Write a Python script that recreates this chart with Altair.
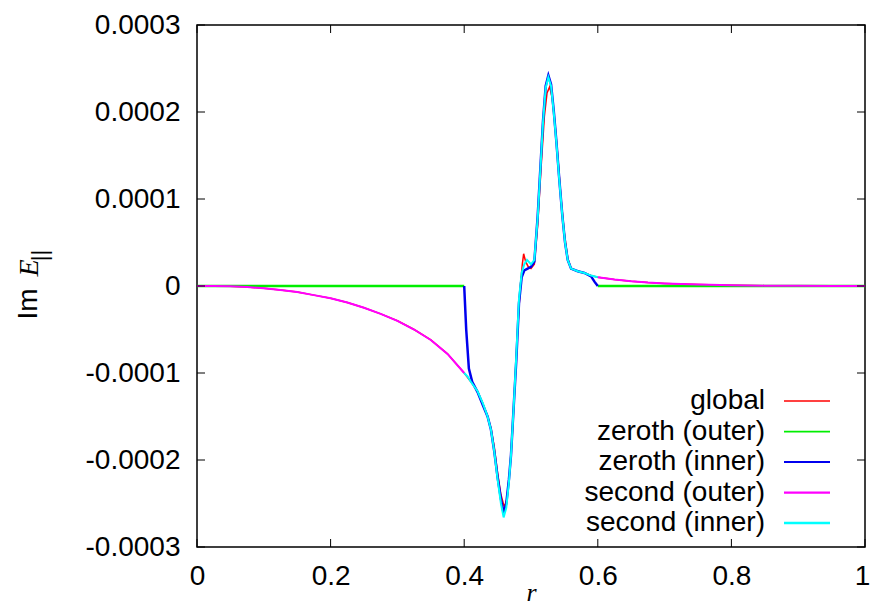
import altair as alt
import pandas as pd

# ---------------- data ----------------
r_outer_left = [0, 0.025, 0.05, 0.075, 0.1, 0.125, 0.15, 0.175, 0.2, 0.225, 0.25,
                0.275, 0.3, 0.325, 0.35, 0.375, 0.4]
v_second_outer_left = [0, -0.1, -0.4, -1.2, -2.5, -4.5, -7, -10.5, -14, -19, -25,
                       -32, -40, -50, -62, -78, -100]  # x1e-6

r_outer_right = [0.6, 0.625, 0.65, 0.675, 0.7, 0.75, 0.8, 0.85, 0.9, 0.95, 1.0]
v_second_outer_right = [10, 7.5, 5.5, 4, 3, 1.6, 0.8, 0.4, 0.2, 0.1, 0]  # x1e-6

r_zeroth_outer_left = [0, 0.4]
v_zeroth_outer_left = [0, 0]
r_zeroth_outer_right = [0.6, 1.0]
v_zeroth_outer_right = [0, 0]

r_zeroth_inner = [0.400, 0.403, 0.407, 0.412, 0.42, 0.428, 0.435, 0.44, 0.445, 0.45,
                  0.455, 0.459, 0.463, 0.467, 0.470, 0.474, 0.478, 0.482, 0.486, 0.49,
                  0.495, 0.5, 0.505, 0.51, 0.514, 0.518, 0.522, 0.526, 0.53, 0.534,
                  0.538, 0.542, 0.547, 0.551, 0.555, 0.56, 0.57, 0.58, 0.59, 0.595, 0.6]
v_zeroth_inner = [0, -50, -95, -110, -122, -137, -150, -165, -190, -220,
                  -245, -261, -250, -222, -195, -140, -85, -20, 10, 18,
                  20, 22, 28, 80, 135, 190, 230, 242, 232, 202,
                  166, 126, 80, 50, 30, 20, 17, 15, 11, 5, 0]

r_second_inner = [0.400, 0.405, 0.41, 0.42, 0.428, 0.435, 0.44, 0.445, 0.45, 0.455,
                  0.459, 0.463, 0.467, 0.470, 0.474, 0.478, 0.482, 0.486, 0.49, 0.494,
                  0.5, 0.505, 0.51, 0.514, 0.518, 0.522, 0.526, 0.53, 0.534, 0.538,
                  0.542, 0.547, 0.551, 0.555, 0.56, 0.57, 0.58, 0.59, 0.6]
v_second_inner = [-100, -104, -110, -121, -135, -150, -165, -190, -222, -250,
                  -266, -255, -225, -195, -140, -80, -15, 15, 25, 30,
                  25, 30, 78, 133, 188, 228, 240, 230, 200, 165,
                  125, 80, 50, 30, 20, 17, 15, 12, 10]

r_global_mid = [0.41, 0.42, 0.428, 0.435, 0.44, 0.445, 0.45, 0.455, 0.46, 0.464,
                0.468, 0.472, 0.476, 0.48, 0.484, 0.487, 0.489, 0.492, 0.496, 0.5,
                0.505, 0.51, 0.515, 0.52, 0.524, 0.528, 0.532, 0.536, 0.54, 0.545,
                0.55, 0.555, 0.56, 0.57, 0.58, 0.59]
v_global_mid = [-110, -121, -135, -150, -163, -185, -215, -240, -254, -245,
                -215, -170, -110, -50, 0, 25, 37, 28, 22, 20,
                25, 70, 135, 195, 222, 229, 215, 185, 150, 100,
                60, 32, 20, 17, 15, 12]

series_names = ["global", "zeroth (outer)", "zeroth (inner)", "second (outer)", "second (inner)"]
series_colors = ["#ff0000", "#00ee00", "#0000ee", "#ff00ff", "#00ffff"]
series_widths = [1.5, 2.5, 2.5, 2.0, 2.0]

x_ticks = [0, 0.2, 0.4, 0.6, 0.8, 1.0]
y_ticks = [-0.0003, -0.0002, -0.0001, 0, 0.0001, 0.0002, 0.0003]

# ---------------- build table ----------------
def seg(name, part, rs, vs):
    return pd.DataFrame({"r": rs, "v": [x * 1e-6 for x in vs],
                         "series": name, "seg": f"{name}-{part}"})

frames = {
    "global": [seg("global", "a",
                   r_outer_left + r_global_mid + r_outer_right,
                   v_second_outer_left + v_global_mid + v_second_outer_right)],
    "zeroth (outer)": [seg("zeroth (outer)", "a", r_zeroth_outer_left, v_zeroth_outer_left),
                       seg("zeroth (outer)", "b", r_zeroth_outer_right, v_zeroth_outer_right)],
    "zeroth (inner)": [seg("zeroth (inner)", "a", r_zeroth_inner, v_zeroth_inner)],
    "second (outer)": [seg("second (outer)", "a", r_outer_left, v_second_outer_left),
                       seg("second (outer)", "b", r_outer_right, v_second_outer_right)],
    "second (inner)": [seg("second (inner)", "a", r_second_inner, v_second_inner)],
}

W, H = 668, 522
FONT = "Liberation Sans"
FS = 28
xscale = alt.Scale(domain=[0, 1], nice=False)
yscale = alt.Scale(domain=[-0.0003, 0.0003], nice=False)

layers = []
for i, name in enumerate(series_names):
    df = pd.concat(frames[name], ignore_index=True)
    first = i == 0
    xenc = alt.X("r:Q", scale=xscale,
                 axis=alt.Axis(values=x_ticks, ticks=False, domain=False, grid=False,
                               labelExpr="format(datum.value, '.1~f')",
                               labelFont=FONT, labelFontSize=FS, labelColor="black",
                               labelPadding=15, labelFlush=False,
                               labelOffset={"condition": {"test": "datum.value == 1", "value": -3},
                                            "value": 0},
                               title="r", titleFont="Liberation Serif", titleFontStyle="italic",
                               titleFontWeight="normal", titleFontSize=26, titleColor="black",
                               titleBaseline="alphabetic", titleY=53) if first else None)
    yenc = alt.Y("v:Q", scale=yscale,
                 axis=alt.Axis(values=y_ticks, ticks=False, domain=False, grid=False,
                               labelExpr="datum.value < 0 ? '-' + format(-datum.value, '.4~f') : format(datum.value, '.4~f')",
                               labelFont=FONT, labelFontSize=FS, labelColor="black",
                               labelPadding=17, labelFlush=False, title=None) if first else None)
    layers.append(
        alt.Chart(df).mark_line(strokeWidth=series_widths[i], color=series_colors[i])
        .encode(x=xenc, y=yenc, detail="seg:N", order="r:Q")
    )

# inward ticks (mirrored on all four sides)
xt = pd.DataFrame({"r": x_ticks})
yt = pd.DataFrame({"v": y_ticks})
TL = 8
tick_layers = [
    alt.Chart(xt).mark_rule(color="black", strokeWidth=1).encode(
        x=alt.X("r:Q", scale=xscale, axis=None), y=alt.value(H), y2=alt.value(H - TL)),
    alt.Chart(xt).mark_rule(color="black", strokeWidth=1).encode(
        x=alt.X("r:Q", scale=xscale, axis=None), y=alt.value(0), y2=alt.value(TL)),
    alt.Chart(yt).mark_rule(color="black", strokeWidth=1).encode(
        y=alt.Y("v:Q", scale=yscale, axis=None), x=alt.value(0), x2=alt.value(TL)),
    alt.Chart(yt).mark_rule(color="black", strokeWidth=1).encode(
        y=alt.Y("v:Q", scale=yscale, axis=None), x=alt.value(W), x2=alt.value(W - TL)),
]

# manual legend (labels right-aligned, line sample on the right)
leg = pd.DataFrame({"name": series_names, "row": list(range(len(series_names)))})
legy = alt.Y("row:Q", scale=alt.Scale(domain=[0, 4], range=[376, 498]), axis=None)
legend_text = alt.Chart(leg).mark_text(align="right", baseline="middle", font=FONT,
                                       fontSize=FS, color="black").encode(
    x=alt.value(568), y=legy, text="name:N")
legend_lines = alt.Chart(leg).mark_rule().encode(
    x=alt.value(587), x2=alt.value(633), y=legy,
    color=alt.Color("name:N", scale=alt.Scale(domain=series_names, range=series_colors), legend=None),
    strokeWidth=alt.StrokeWidth("name:N", scale=alt.Scale(domain=series_names, range=series_widths),
                                legend=None))

# y-axis title: "Im E_||"
one = leg.head(1)
ytitle = [
    alt.Chart(one).mark_text(text="Im", angle=270, font=FONT, fontSize=28,
                             align="center", baseline="middle", color="black").encode(
        x=alt.value(-168), y=alt.value(279)),
    alt.Chart(one).mark_text(text="E", angle=270, font="Liberation Serif", fontStyle="italic",
                             fontSize=28, align="center", baseline="middle", color="black").encode(
        x=alt.value(-167), y=alt.value(243)),
    alt.Chart(one).mark_text(text="||", angle=270, font=FONT, fontSize=22,
                             align="center", baseline="middle", color="black").encode(
        x=alt.value(-157), y=alt.value(230.5)),
]

chart = alt.layer(*layers, *tick_layers, legend_text, legend_lines, *ytitle).resolve_scale(
    x="independent", y="independent", color="independent", strokeWidth="independent"
).properties(
    width=W, height=H,
    autosize=alt.AutoSizeParams(type="none"),
    padding={"left": 189, "top": 17, "right": 5, "bottom": 61},
).configure_view(stroke="black", strokeWidth=1.5)

chart.save("out.html", embed_options={"renderer": "svg", "actions": False})
